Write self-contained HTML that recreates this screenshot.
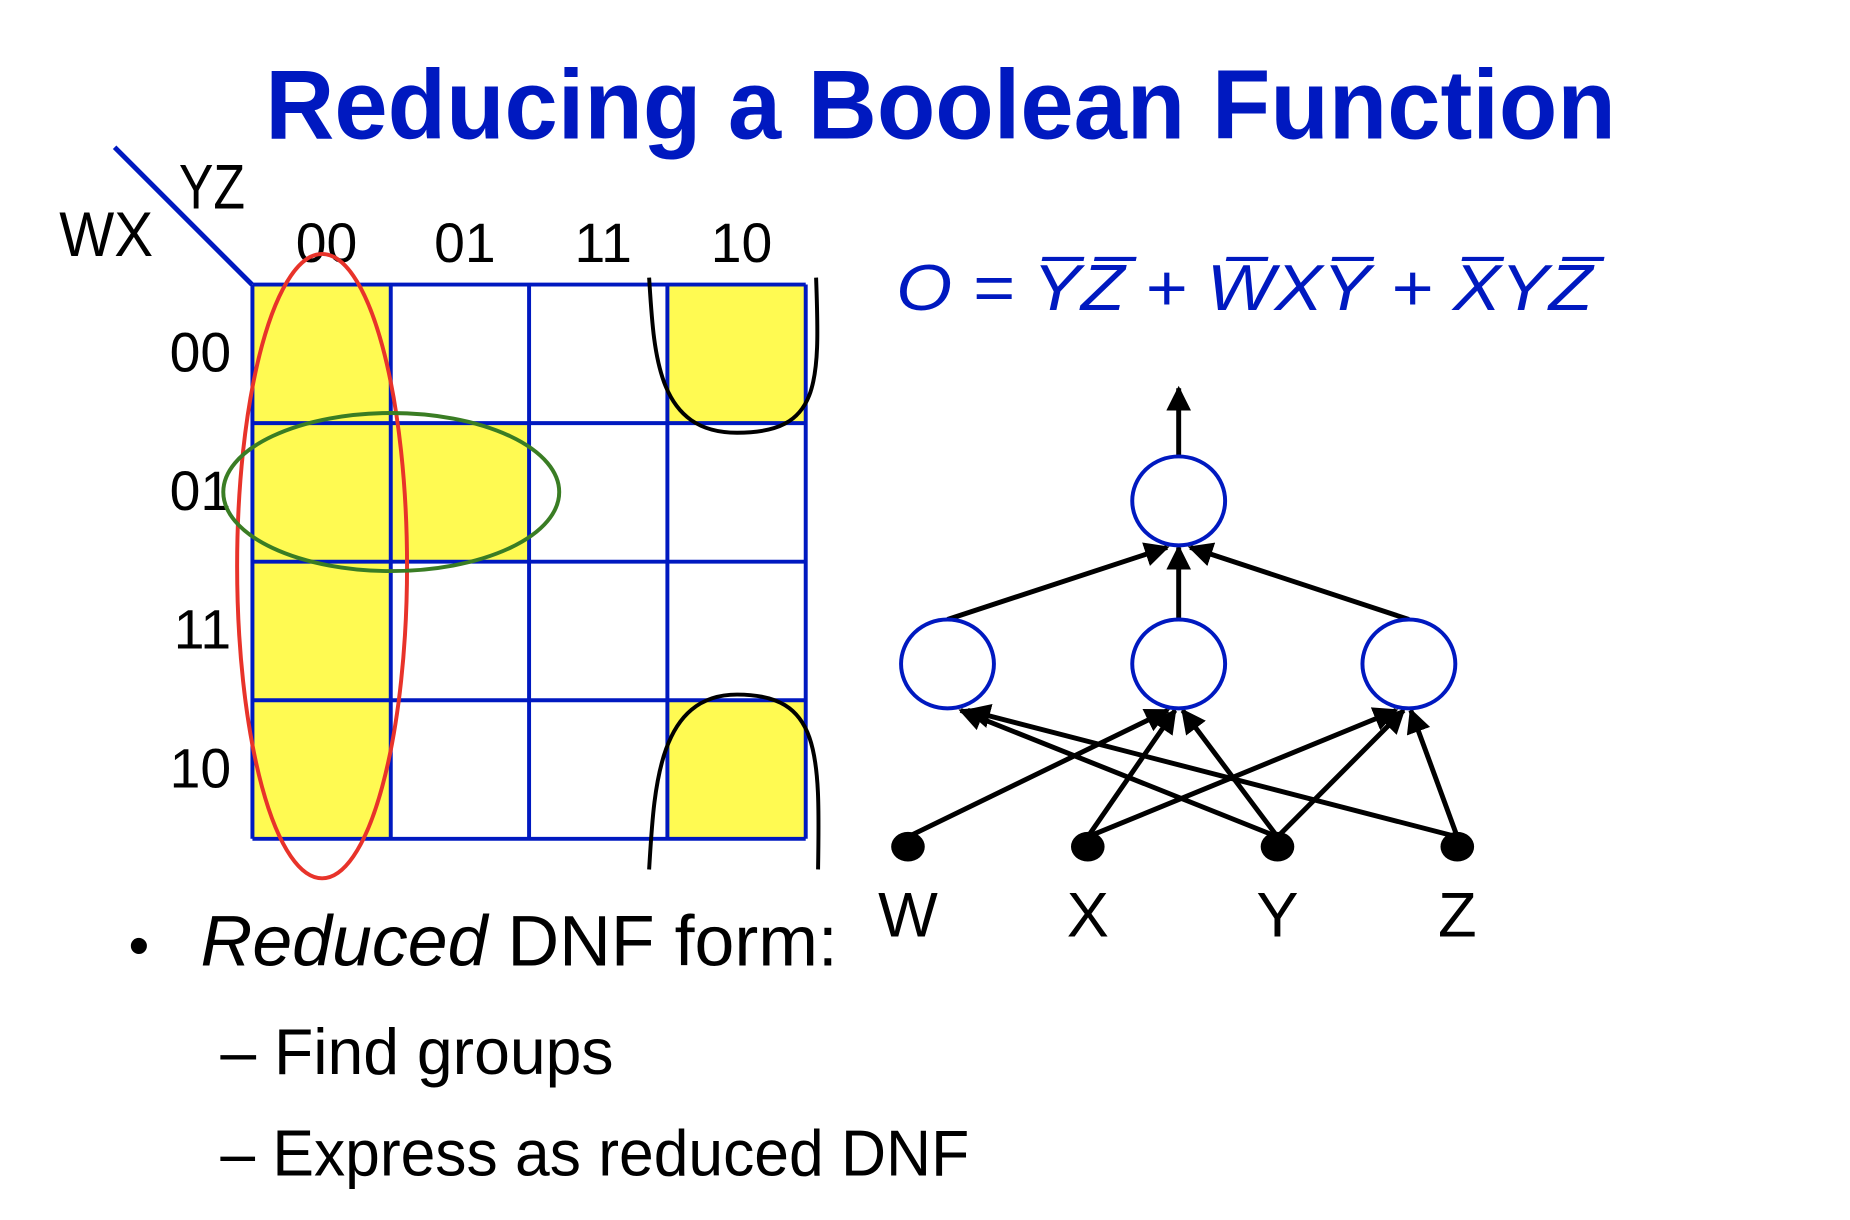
<!DOCTYPE html>
<html><head><meta charset="utf-8"><style>
html,body{margin:0;padding:0;background:#fff;width:1850px;height:1220px;overflow:hidden}
svg{display:block}
text{font-family:"Liberation Sans",sans-serif}
</style></head><body>
<svg id="s" width="1850" height="1220" viewBox="0 0 1850 1220">
<defs><marker id="ah" viewBox="0 0 10 10" refX="9" refY="5" markerWidth="5" markerHeight="5" orient="auto"><path d="M0,0L10,5L0,10z" fill="#000"/></marker></defs>
<g transform="scale(0.988)">
<text x="952" y="140" text-anchor="middle" font-size="100" font-weight="bold" fill="#0019c0" textLength="1367" lengthAdjust="spacingAndGlyphs">Reducing a Boolean Function</text>
<g id="kmap"></g>
<line x1="116" y1="149" x2="255" y2="288" stroke="#0019c0" stroke-width="5"/>
<text x="60" y="259" font-size="64" textLength="95" lengthAdjust="spacingAndGlyphs">WX</text>
<text x="181" y="211" font-size="64" textLength="67" lengthAdjust="spacingAndGlyphs">YZ</text>
<ellipse cx="326" cy="573" rx="86" ry="316" fill="none" stroke="#e8332a" stroke-width="4"/>
<ellipse cx="396" cy="498" rx="170" ry="80" fill="none" stroke="#3a7d24" stroke-width="4"/>
<path d="M657,281 C662,360 665,438 746,438 C830,438 830,390 826,281" fill="none" stroke="#000" stroke-width="4"/>
<path d="M657,880 C662,800 665,703 746,703 C830,703 830,760 828,880" fill="none" stroke="#000" stroke-width="4"/>
<text x="907" y="314" font-family="Liberation Serif,serif" font-style="italic" font-size="66" fill="#0019c0" textLength="705" lengthAdjust="spacingAndGlyphs">O = Y̅Z̅ + W̅XY̅ + X̅YZ̅</text>
<g id="net"></g>
<text x="130" y="977" font-size="60">•</text>
<text x="203" y="977" font-size="72" textLength="645" lengthAdjust="spacingAndGlyphs"><tspan font-style="italic">Reduced</tspan> DNF form:</text>
<text x="223" y="1087" font-size="66" textLength="398" lengthAdjust="spacingAndGlyphs">– Find groups</text>
<text x="223" y="1190" font-size="66" textLength="758" lengthAdjust="spacingAndGlyphs">– Express as reduced DNF</text>
</g>
</svg>
<script>
const colLabels=["00","01","11","10"];
const rowLabels=["00","01","11","10"];
const cellValues=[[1,0,0,1],[1,1,0,0],[1,0,0,0],[1,0,0,1]];
const NS="http://www.w3.org/2000/svg";
const gx0=255.5,gy0=288,cw=140,ch=140.25;
const xc=i=>gx0+i*cw, yr=j=>gy0+j*ch;
function mk(t,a,p){const e=document.createElementNS(NS,t);for(const k in a)e.setAttribute(k,a[k]);p.appendChild(e);return e;}
const km=document.getElementById('kmap');
cellValues.forEach((row,j)=>row.forEach((v,i)=>{
 const r=mk('rect',{x:xc(i),y:yr(j),width:cw,height:ch,fill:v?'#fffa52':'#fff'},km);
 
 
}));
for(let i=0;i<=4;i++){
 const l=mk('line',{x1:xc(i),y1:yr(0),x2:xc(i),y2:yr(4),stroke:'#0019c0','stroke-width':4},km);
 
 
 const h=mk('line',{x1:xc(0),y1:yr(i),x2:xc(4),y2:yr(i),stroke:'#0019c0','stroke-width':4},km);
 
 
}
colLabels.forEach((c,i)=>{const t=mk('text',{x:xc(i)+cw/2+5,y:265,'text-anchor':'middle','font-size':56},km);t.textContent=c;
 
 });
rowLabels.forEach((c,j)=>{const t=mk('text',{x:234,y:yr(j)+ch/2+18,'text-anchor':'end','font-size':56},km);t.textContent=c;
 
 });
const inputs=["W","X","Y","Z"];
const hiddenEdges=[[1],[1,2],[0,1,2],[0,2]];
const net=document.getElementById('net');
const inX=[919,1101,1293,1475], inY=857, midX=[959,1193,1426], midY=672, topX=1193, topY=507, rx=47, ry=45;
inputs.forEach((n,k)=>hiddenEdges[k].forEach(m=>{
 const e=mk('line',{x1:inX[k],y1:inY-10,x2:midX[m]+(inX[k]-midX[m])*0.04,y2:midY+ry+2,stroke:'#000','stroke-width':5,'marker-end':'url(#ah)'},net);
 
 
}));
midX.forEach(x=>{const e=mk('line',{x1:x,y1:midY-ry,x2:topX+(x-topX)*0.05,y2:topY+ry+2,stroke:'#000','stroke-width':5,'marker-end':'url(#ah)'},net);
 
 });
const o=mk('line',{x1:topX,y1:topY-ry,x2:topX,y2:393,stroke:'#000','stroke-width':5,'marker-end':'url(#ah)'},net);


midX.forEach(x=>{const c=mk('ellipse',{cx:x,cy:midY,rx:rx,ry:ry,fill:'#fff',stroke:'#0019c0','stroke-width':4},net);
 
 });
const tn=mk('ellipse',{cx:topX,cy:topY,rx:rx,ry:ry,fill:'#fff',stroke:'#0019c0','stroke-width':4},net);


inputs.forEach((n,k)=>{
 const d=mk('ellipse',{cx:inX[k],cy:inY,rx:17,ry:15,fill:'#000'},net);
 
 
 const t=mk('text',{x:inX[k],y:948,'text-anchor':'middle','font-size':64},net);t.textContent=n;
 
 
});
</script>
</body></html>
